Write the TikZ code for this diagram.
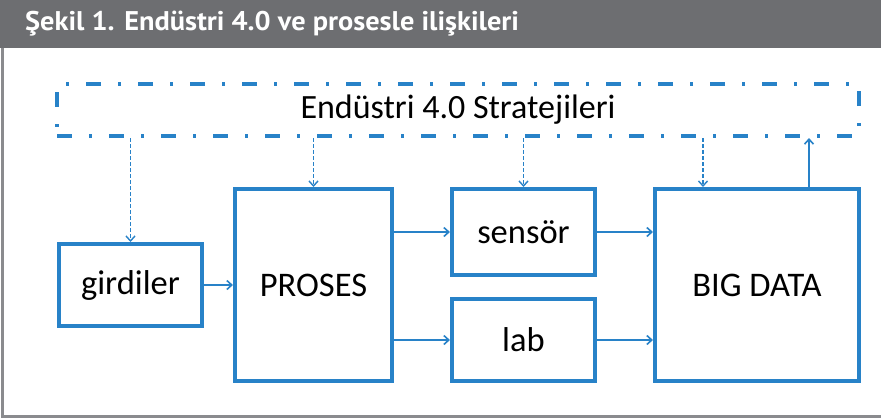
\documentclass[tikz,border=0pt]{standalone}
\usepackage{fontspec}
\usetikzlibrary{arrows.meta}
\setmainfont{Carlito}
\newfontfamily\titlefont{PT Sans}[FakeStretch=1.05]
\definecolor{diagblue}{RGB}{40,130,200}
\definecolor{headgray}{RGB}{109,110,113}
\begin{document}
\begin{tikzpicture}[x=1pt,y=-1pt,
  blok/.style={draw=diagblue,line width=4pt,fill=white,inner sep=0pt,
    font=\fontsize{34.5}{38}\selectfont},
  strateji/.style={draw=diagblue,line width=4pt,
    dash pattern=on 15pt off 17pt on 3pt off 17pt,
    font=\fontsize{34}{38}\selectfont},
  akis/.style={-{Straight Barb[length=5pt,width=9pt]},draw=diagblue,line width=1.6pt},
  etki/.style={-{Straight Barb[length=5pt,width=9pt]},draw=diagblue,line width=1.4pt,dash pattern=on 4pt off 2pt}]
\useasboundingbox (0,0) rectangle (881,418);
% header and frame
\fill[headgray] (0,0) rectangle (881,48);
\node[anchor=base west,inner sep=0pt,text=white,font=\titlefont\bfseries\fontsize{27}{30}\selectfont] (baslik) at (25,30) {Şekil 1. Endüstri 4.0 ve prosesle ilişkileri};
\draw[headgray!80,line width=3pt] (2,48) -- (2,416) -- (881,416);
% boxes
\node[strateji,minimum width=802pt,minimum height=52pt] (strat) at (458,110) {Endüstri 4.0 Stratejileri};
\node[blok,minimum width=143pt,minimum height=82pt] (girdi) at (130.5,285) {girdiler};
\node[blok,minimum width=157pt,minimum height=192pt] (proses) at (313.5,285) {PROSES};
\node[blok,minimum width=143pt,minimum height=86pt] (sensor) at (523.5,232) {sensör};
\node[blok,minimum width=143pt,minimum height=82pt] (lab) at (523.5,340) {lab};
\node[blok,minimum width=204pt,minimum height=192pt] (bigdata) at (757,285) {BIG DATA};
\coordinate (bdin) at ([xshift=-54pt]bigdata.north);
\coordinate (bdout) at ([xshift=52pt]bigdata.north);
% flows
\draw[akis] (girdi) -- (proses);
\draw[akis] (proses.east |- sensor) -- (sensor);
\draw[akis] (proses.east |- lab) -- (lab);
\draw[akis] (sensor) -- (bigdata.west |- sensor);
\draw[akis] (lab) -- (bigdata.west |- lab);
% strategy links
\draw[etki] (strat.south -| girdi) -- (girdi);
\draw[etki] (strat.south -| proses) -- (proses);
\draw[etki] (strat.south -| sensor) -- (sensor);
\draw[etki] (strat.south -| bdin) -- (bdin);
\draw[akis] (bdout) -- (strat.south -| bdout);
\end{tikzpicture}
\end{document}
